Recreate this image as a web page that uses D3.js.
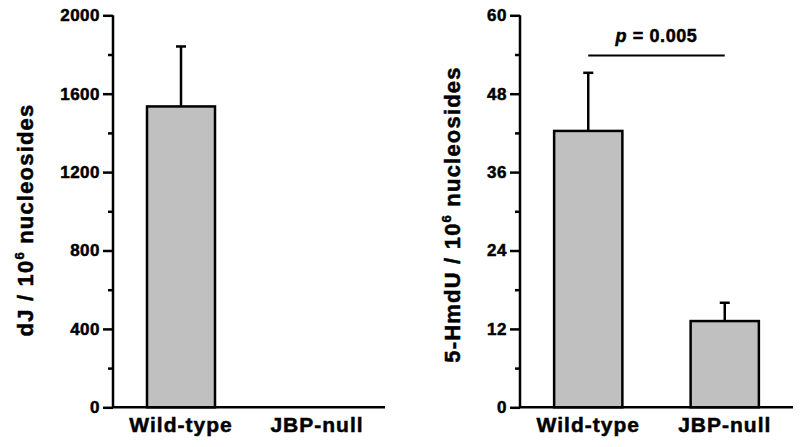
<!DOCTYPE html>
<html><head><meta charset="utf-8">
<script src="https://cdn.jsdelivr.net/npm/d3@7"></script>
<style>
body{margin:0;background:#fff;}
text{font-family:"Liberation Sans",Arial,sans-serif;font-weight:bold;fill:#000;stroke:#000;stroke-width:0.5px;}
</style></head>
<body><svg id="c" width="800" height="447"></svg>
<script>
const categories = ["Wild-type", "JBP-null"];
const dJValues = [1535, null];
const dJErrors = [306, null];
const hmdUValues = [42.3, 13.2];
const hmdUErrors = [8.9, 2.8];
const dJTicks = [0, 400, 800, 1200, 1600, 2000];
const dJMinor = [200, 600, 1000, 1400, 1800];
const hmdUTicks = [0, 12, 24, 36, 48, 60];
const hmdUMinor = [6, 18, 30, 42, 54];
const pLabel = "0.005";

const svg = d3.select("#c");
const yTop = 15.3, yBot = 407.3;

function panel(opt){
  const g = svg.append("g");
  const x = d3.scaleBand().domain(categories).range([opt.x0, opt.x1]).paddingInner(0.5).paddingOuter(0.25);
  const y = d3.scaleLinear().domain([0, opt.max]).range([yBot, yTop]);
  const data = categories.map((c,i)=>({c, v:opt.values[i], e:opt.errors[i]})).filter(d=>d.v!=null);
  g.selectAll("line.err").data(data).join("line")
    .attr("x1", d=>x(d.c)+x.bandwidth()/2).attr("x2", d=>x(d.c)+x.bandwidth()/2)
    .attr("y1", d=>y(d.v)).attr("y2", d=>y(d.v+d.e))
    .attr("stroke","#000").attr("stroke-width",2.5);
  g.selectAll("line.cap").data(data).join("line")
    .attr("x1", d=>x(d.c)+x.bandwidth()/2-5).attr("x2", d=>x(d.c)+x.bandwidth()/2+5)
    .attr("y1", d=>y(d.v+d.e)).attr("y2", d=>y(d.v+d.e))
    .attr("stroke","#000").attr("stroke-width",2.5);
  g.selectAll("rect").data(data).join("rect")
    .attr("x", d=>x(d.c)).attr("width", x.bandwidth())
    .attr("y", d=>y(d.v)).attr("height", d=>y(0)-y(d.v))
    .attr("fill","#c0c0c0").attr("stroke","#000").attr("stroke-width",2.5);
  const ay = g.append("g").attr("transform",`translate(${opt.x0},0)`)
    .call(d3.axisLeft(y).tickValues(opt.ticks).tickSize(10).tickPadding(3).tickFormat(d3.format("d")));
  ay.select(".domain").attr("stroke-width",2.5).attr("d",`M0,${yTop}V${yBot}`);
  ay.selectAll(".tick line").attr("stroke-width",2.5);
  ay.selectAll(".tick text").style("font-size","17px").style("letter-spacing","0.5px")
    .style("font-family","'Liberation Sans',Arial,sans-serif").style("font-weight","bold");
  const am = g.append("g").attr("transform",`translate(${opt.x0},0)`)
    .call(d3.axisLeft(y).tickValues(opt.minor).tickSize(5).tickFormat(""));
  am.select(".domain").remove();
  am.selectAll(".tick line").attr("stroke-width",2.5);
  const ax = g.append("g").attr("transform",`translate(0,${yBot})`)
    .call(d3.axisBottom(x).tickSize(0).tickPadding(10));
  ax.select(".domain").attr("stroke-width",2.5).attr("d",`M${opt.x0-1},0H${opt.x1}`);
  ax.selectAll(".tick text").style("font-size","21px").style("letter-spacing","1px")
    .style("font-family","'Liberation Sans',Arial,sans-serif").style("font-weight","bold")
    .attr("dy","0").attr("y",25);
  const t = g.append("text").attr("transform",`translate(${opt.tx},${opt.ty}) rotate(-90)`)
    .attr("text-anchor","middle").style("font-size","22px").style("letter-spacing","1.2px");
  t.append("tspan").text(opt.title + " / 10");
  t.append("tspan").text("6").style("font-size","13px").attr("dy","-9");
  t.append("tspan").text(" nucleosides").attr("dy","9");
  return {g,x,y};
}

panel({x0:113, x1:385, max:2000, values:dJValues, errors:dJErrors, ticks:dJTicks, minor:dJMinor, title:"dJ", tx:33, ty:220});
const r = panel({x0:520, x1:793, max:60, values:hmdUValues, errors:hmdUErrors, ticks:hmdUTicks, minor:hmdUMinor, title:"5-HmdU", tx:460, ty:214.5});

const c0 = r.x(categories[0]) + r.x.bandwidth()/2, c1 = r.x(categories[1]) + r.x.bandwidth()/2;
r.g.append("line").attr("x1",c0).attr("x2",c1).attr("y1",55.5).attr("y2",55.5)
  .attr("stroke","#000").attr("stroke-width",2);
const pt = r.g.append("text").attr("x",(c0+c1)/2).attr("y",42).attr("text-anchor","middle")
  .style("font-size","18px").style("letter-spacing","0.6px");
pt.append("tspan").text("p").style("font-style","italic");
pt.append("tspan").text(" = " + pLabel);
</script></body></html>
